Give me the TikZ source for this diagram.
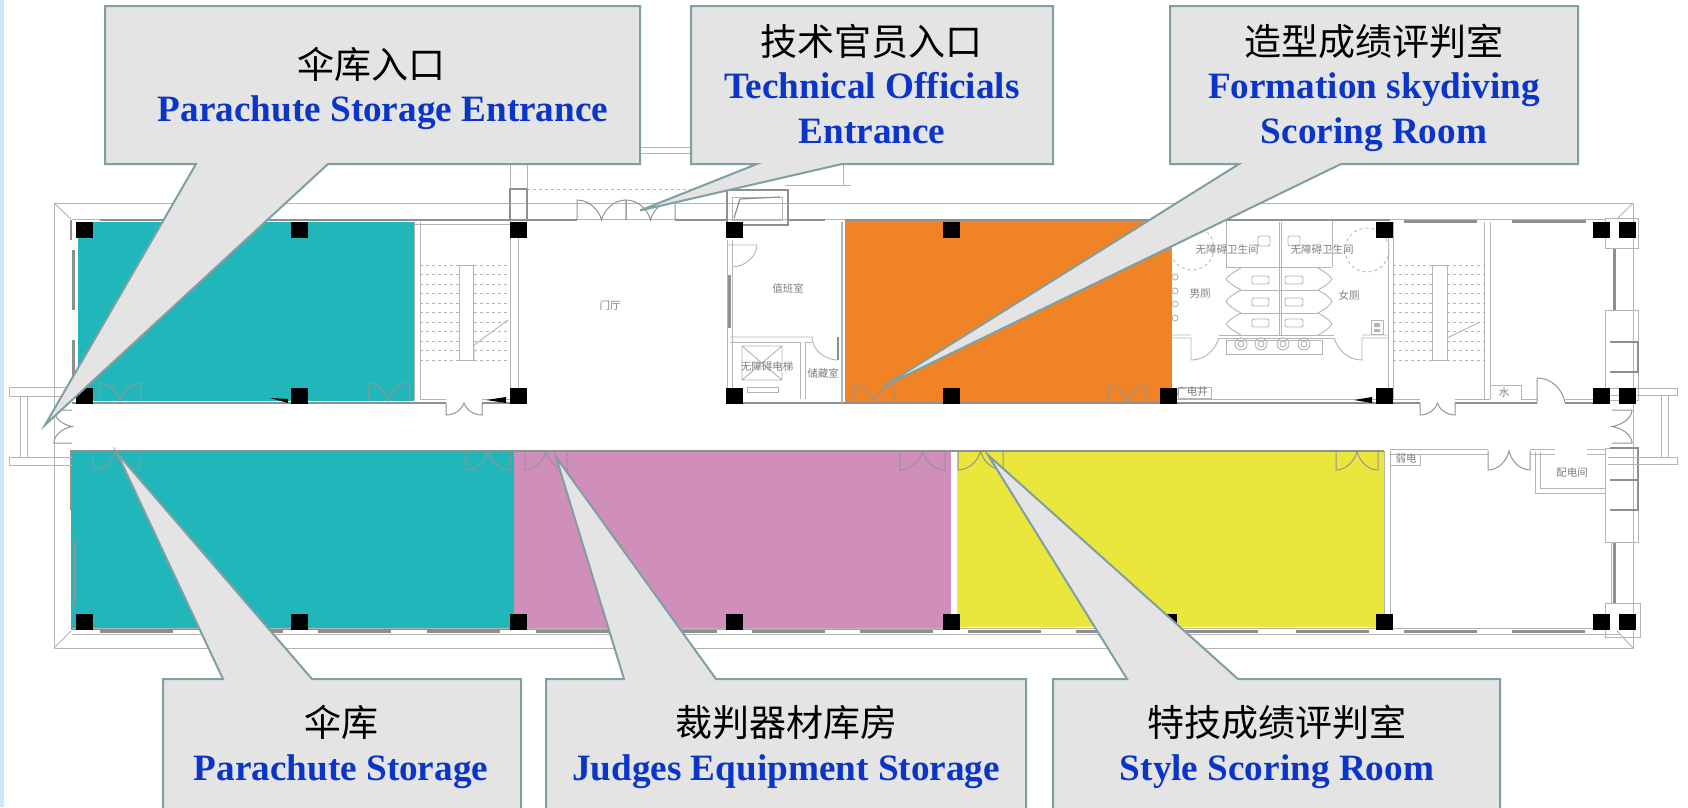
\documentclass[tikz,border=0pt]{standalone}
\usepackage{fontspec}
\setmainfont{Liberation Serif}
\newfontfamily\cjk{Noto Sans CJK SC}
\definecolor{teal1}{HTML}{21B6BA}
\definecolor{orange1}{HTML}{F08326}
\definecolor{pink1}{HTML}{D08EBA}
\definecolor{yellow1}{HTML}{EAE63C}
\definecolor{boxfill}{HTML}{E4E4E4}
\definecolor{boxline}{HTML}{7F9FA3}
\definecolor{engblue}{HTML}{0B35C9}
\definecolor{plan}{HTML}{B4B4B4}
\definecolor{plandark}{HTML}{8F8F8F}
\definecolor{strip}{HTML}{CFE6FA}
\tikzset{
 x=1pt,y=-1pt,
 planline/.style={draw=plan,line width=0.9pt},
 darkline/.style={draw=plandark,line width=1.2pt},
 window/.style={draw=plandark,line width=3pt},
 doorline/.style={draw=black!42,line width=1pt},
 column/.style={fill=black},
 callout/.style={fill=boxfill,draw=boxline,line width=2pt,line join=miter},
 zh/.style={font=\cjk\fontsize{37}{40}\selectfont,text=black,inner sep=0pt,text height=31pt,text depth=4pt},
 en/.style={font=\bfseries\fontsize{37.2}{40}\selectfont,text=engblue,inner sep=0pt,text height=30pt,text depth=8pt},
 small/.style={font=\cjk\fontsize{10.5}{12}\selectfont,text=black!50,inner sep=0pt},
}
\newcommand{\hdoor}[4]{% x1 x2 yjamb ywall
 \draw[doorline] (#1,#4)--(#1,#3) .. controls ({#1+(#2-#1)/4},#3) and ({#1+(#2-#1)*0.45},{#3+(#4-#3)*0.5}) .. ({(#1+#2)/2},#4)
   .. controls ({#1+(#2-#1)*0.55},{#3+(#4-#3)*0.5}) and ({#2-(#2-#1)/4},#3) .. (#2,#3)--(#2,#4);}
\newcommand{\vdoor}[4]{% y1 y2 xjamb xwall
 \draw[doorline] (#4,#1)--(#3,#1) .. controls (#3,{#1+(#2-#1)/4}) and ({#3+(#4-#3)*0.5},{#1+(#2-#1)*0.45}) .. (#4,{(#1+#2)/2})
   .. controls ({#3+(#4-#3)*0.5},{#1+(#2-#1)*0.55}) and (#3,{#2-(#2-#1)/4}) .. (#3,#2)--(#4,#2);}
\begin{document}
\begin{tikzpicture}
\clip (0,0) rectangle (1688,807);
\useasboundingbox (0,0) rectangle (1688,807);
\fill[white] (0,0) rectangle (1688,807);
\fill[strip] (0,0) rectangle (3.5,807);
% coloured rooms
\fill[teal1] (78,222) rectangle (414,401);
\fill[orange1] (845,219) rectangle (1172,403);
\fill[teal1] (71,451) rectangle (514,630);
\fill[pink1] (514,452) rectangle (951,630);
\fill[yellow1] (957,452) rectangle (1384,627);
% parapet
\draw[planline] (54,203) rectangle (1633,648);
\draw[planline] (54,203)--(71,219) (1633,203)--(1617,219) (54,648)--(71,631) (1633,648)--(1617,631);
% top wall
\draw[planline] (72,219)--(1605,219);
\draw[planline] (414,224)--(510,224);
\draw[darkline] (100,220)--(510,220) (518,220)--(577,220) (675,220)--(727,220) (788,220)--(825,220) (845,220)--(1172,220);
\foreach \a/\b in {1404/1477,1512/1586}{\draw[window] (\a,221)--(\b,221);}
\draw[darkline] (1226,220)--(1390,220);
% west wall
\draw[window] (73,250)--(73,310) (73,340)--(73,395);
\draw[darkline] (71,220)--(71,240) (71,450)--(71,510);
\draw[window] (74,540)--(74,605);
% east wall
\draw[window] (1614,248)--(1614,310) (1614,542)--(1614,603);
\draw[planline] (1605,218) rectangle (1638,248);
\draw[planline] (1605,310) rectangle (1638,400);
\draw[planline] (1605,448) rectangle (1638,542);
\draw[planline] (1605,603) rectangle (1640,637);
\draw[darkline] (1610,342)--(1638,342)--(1638,372)--(1610,372);
\draw[darkline] (1610,448)--(1638,448)--(1638,510)--(1610,510) (1610,480)--(1638,480);
% south wall
\draw[planline] (72,628)--(1605,628) (72,634)--(1620,634);
\foreach \x in {100,210,318,427,536,644,752,860,968,1076,1185,1296,1404,1512}{
  \draw[window] (\x,631)--(\x+73,631);}
% corridor walls
\draw[darkline] (72,403)--(446,403) (482,403)--(510,403) (727,403)--(1420,403) (1455,403)--(1537,403) (1565,403)--(1600,403);
\draw[planline] (420,399)--(446,399) (482,399)--(510,399) (1172,399)--(1420,399) (1455,399)--(1490,399) (1521,399)--(1537,399) (1565,399)--(1600,399);
\draw[darkline] (72,451)--(1384,451);
\draw[planline] (1390,449)--(1488,449) (1530,449)--(1555,449) (1587,449)--(1605,449);
\draw[planline] (1390,454)--(1488,454) (1530,454)--(1555,454) (1587,454)--(1605,454);
% stair, west
\draw[planline] (414,222)--(414,400) (420,222)--(420,399) (510,189)--(510,396) (518,222)--(518,396);
\foreach \y in {265,274.5,...,361}{\draw[plan,line width=0.6pt,dashed] (420,\y)--(510,\y);}
\draw[planline,fill=white] (459,265) rectangle (473,360);
\draw[planline] (474,345)--(508,320) (474,345)--(474,360);
% stair, east
\draw[planline] (1388,222)--(1388,396) (1393,222)--(1393,399) (1484,222)--(1484,399) (1490,222)--(1490,399);
\foreach \y in {265,274.5,...,361}{\draw[plan,line width=0.6pt,dashed] (1393,\y)--(1484,\y);}
\draw[planline,fill=white] (1432,265) rectangle (1447,360);
\draw[planline] (1447,338)--(1480,322);
% lobby porch
\draw[plan,line width=0.9pt,dashed] (527,189)--(727,189);
\draw[darkline] (510,189) rectangle (527,220);
\draw[planline] (510,164)--(510,189) (527,164)--(527,189);
\draw[planline] (640,147)--(690,147) (640,153)--(690,153);
\draw[darkline] (727,190)--(788,190)--(788,225)--(727,225)--cycle;
\draw[planline] (732,197) rectangle (782,220);
\draw[darkline] (734,218)--(740,199)--(780,197);
\draw[planline] (785,185)--(851,185) (843,164)--(843,185);
% duty room / lift
\draw[planline] (727,240)--(727,396) (732,240)--(732,396);
\draw[window] (729.5,275)--(729.5,328);
\draw[planline] (727,245)--(757,245) .. controls (757,256) and (745,267) .. (732,267);
\draw[planline] (730,337)--(812,337) .. controls (812,350) and (825,360) .. (838,360);
\draw[planline] (730,342)--(800,342)--(800,399) (805,342)--(805,399) (805,342)--(812,342);
\draw[darkline] (838,337)--(838,360);
\draw[planline] (742,346) rectangle (782,380) (742,346)--(782,380) (782,346)--(742,380);
\draw[planline] (747,387) rectangle (778,392);
\draw[plan,line width=1.5pt] (842,222)--(842,403);
% WC
\draw[planline] (1279,222)--(1279,335) (1281,222)--(1281,335);
\draw[planline] (1226,267)--(1332,267) (1226,220)--(1226,267) (1332,220)--(1332,267);
\draw[plan,line width=0.8pt,dashed] (1192,248) circle (22) (1367,250) circle (22);
\draw[planline] (1241,290)--(1318,290) (1241,313)--(1318,313) (1219,335)--(1334,335) (1219,338)--(1334,338);
\foreach \a/\b in {268/290,290/313,313/335}{
 \draw[planline] (1241,\a) .. controls (1232,{\a+5}) and (1228,{\a+8}) .. (1226,{(\a+\b)/2}) .. controls (1228,{\b-8}) and (1232,{\b-5}) .. (1241,\b);
 \draw[planline] (1318,\a) .. controls (1327,{\a+5}) and (1330,{\a+8}) .. (1332,{(\a+\b)/2}) .. controls (1330,{\b-8}) and (1327,{\b-5}) .. (1318,\b);}
\foreach \y in {280,302,323}{
 \draw[planline,rounded corners=2pt] (1252,\y-4) rectangle (1269,\y+4);
 \draw[planline,rounded corners=2pt] (1285,\y-4) rectangle (1303,\y+4);}
\draw[planline,rounded corners=2pt] (1258,236) rectangle (1270,246) (1288,236) rectangle (1300,246);
\foreach \x in {1241,1261,1283,1304}{\draw[planline] (\x,344) circle (6) (\x,344) circle (3);}
\draw[planline] (1226,340) rectangle (1322,354);
\foreach \y in {277,291,304,318}{\draw[planline] (1175,\y) circle (3);}
\draw[planline] (1172,335)--(1191,335) (1172,338)--(1191,338)--(1191,360) .. controls (1205,360) and (1215,350) .. (1219,338);
\draw[planline] (1388,335)--(1362,335) (1388,338)--(1362,338)--(1362,360) .. controls (1348,360) and (1338,350) .. (1334,338);
\draw[planline] (1371,320) rectangle (1383,334);
\fill[plan] (1374,323) rectangle (1380,327) (1374,329) rectangle (1380,332);
% small rooms on corridor
\draw[planline] (1178,387) rectangle (1211,398);
\draw[planline] (1490,385)--(1521,385)--(1521,399);
\draw[planline] (1390,451)--(1390,622) (1384,451)--(1384,622);
\draw[planline] (1390,465)--(1420,465)--(1420,454);
\draw[planline] (1535,452)--(1535,493)--(1605,493) (1540,452)--(1540,488)--(1605,488) (1605,454)--(1605,542) (1611,542)--(1611,603);
% doors
\hdoor{577}{626}{200}{220}
\hdoor{626}{675}{200}{220}
\hdoor{99}{141}{383}{401}
\hdoor{368}{409}{383}{401}
\hdoor{446}{482}{415}{403}
\hdoor{854}{895}{385}{403}
\hdoor{1108}{1146}{385}{403}
\hdoor{1420}{1455}{415}{403}
\hdoor{93}{139}{470}{451}
\hdoor{466}{510}{470}{451}
\hdoor{525}{567}{470}{451}
\hdoor{900}{945}{470}{451}
\hdoor{958}{1003}{470}{451}
\hdoor{1336}{1378}{470}{451}
\hdoor{1488}{1530}{470}{451}
\vdoor{410}{443}{54}{72}
\vdoor{410}{443}{1632}{1612}
\draw[doorline] (1537,403)--(1537,378) .. controls (1552,378) and (1563,390) .. (1565,403);
% little black wedges
\fill[black] (270,398)--(288,399)--(288,403)--cycle (486,400)--(506,397)--(506,403)--cycle (1354,400)--(1372,397)--(1372,403)--cycle;
% entrance porches
\draw[planline] (72,387)--(9,387)--(9,396)--(72,396) (20,396)--(20,457) (27,396)--(27,457) (72,457)--(9,457)--(9,465)--(72,465);
\draw[planline] (1608,388)--(1677,388)--(1677,395)--(1608,395) (1661,395)--(1661,457) (1668,395)--(1668,457) (1608,457)--(1677,457)--(1677,464)--(1608,464);
% columns
\foreach \x in {84.5,299.5,518.5,734.5,951.5,1168.5,1384.5,1601,1627}{
  \foreach \y in {230,396,622}{\fill[black] (\x-8.5,\y-8) rectangle (\x+8.5,\y+8);}}
% room labels
\node[small] (lobby) at (610,305) {门厅};
\node[small] (duty) at (788,288) {值班室};
\node[small] (lift) at (767,366) {无障碍电梯};
\node[small] (store) at (823,373) {储藏室};
\node[small] (wcm) at (1227,249) {无障碍卫生间};
\node[small] (wcf) at (1322,249) {无障碍卫生间};
\node[small] (men) at (1200,294) {男厕};
\node[small] (women) at (1349,295) {女厕};
\node[small] (duct) at (1192,392) {广电井};
\node[small] (water) at (1504,393) {水};
\node[small] (weak) at (1406,459) {弱电};
\node[small] (power) at (1572,473) {配电间};
% callouts
\draw[callout] (105,6)--(640,6)--(640,164)--(328,164)--(45,425)--(196,164)--(105,164)--cycle;
\draw[callout] (691,6)--(1053,6)--(1053,164)--(842,164)--(640,210.5)--(757,164)--(691,164)--cycle;
\draw[callout] (1170,6)--(1578,6)--(1578,164)--(1341,164)--(884,386)--(1239,164)--(1170,164)--cycle;
\draw[callout] (163,679)--(223,679)--(117,453)--(312,679)--(521,679)--(521,820)--(163,820)--cycle;
\draw[callout] (546,679)--(624,679)--(556,457)--(716,679)--(1026,679)--(1026,820)--(546,820)--cycle;
\draw[callout] (1053,679)--(1127,679)--(988,455)--(1238,679)--(1500,679)--(1500,820)--(1053,820)--cycle;
% callout texts
\node[zh] (c1z) at (371,64.6) {伞库入口};
\node[en] (c1e) at (383,110) {Parachute Storage Entrance};
\node[zh] (c2z) at (871,42) {技术官员入口};
\node[en] (c2e) at (872,87) {Technical Officials};
\node[en] (c2f) at (872,132) {Entrance};
\node[zh] (c3z) at (1374,42) {造型成绩评判室};
\node[en] (c3e) at (1374,87) {Formation skydiving};
\node[en] (c3f) at (1374,132) {Scoring Room};
\node[zh] (c4z) at (341,723) {伞库};
\node[en] (c4e) at (341,769) {Parachute Storage};
\node[zh] (c5z) at (786,723) {裁判器材库房};
\node[en] (c5e) at (786,769) {Judges Equipment Storage};
\node[zh] (c6z) at (1277,723) {特技成绩评判室};
\node[en] (c6e) at (1277,769) {Style Scoring Room};
\end{tikzpicture}
\end{document}
